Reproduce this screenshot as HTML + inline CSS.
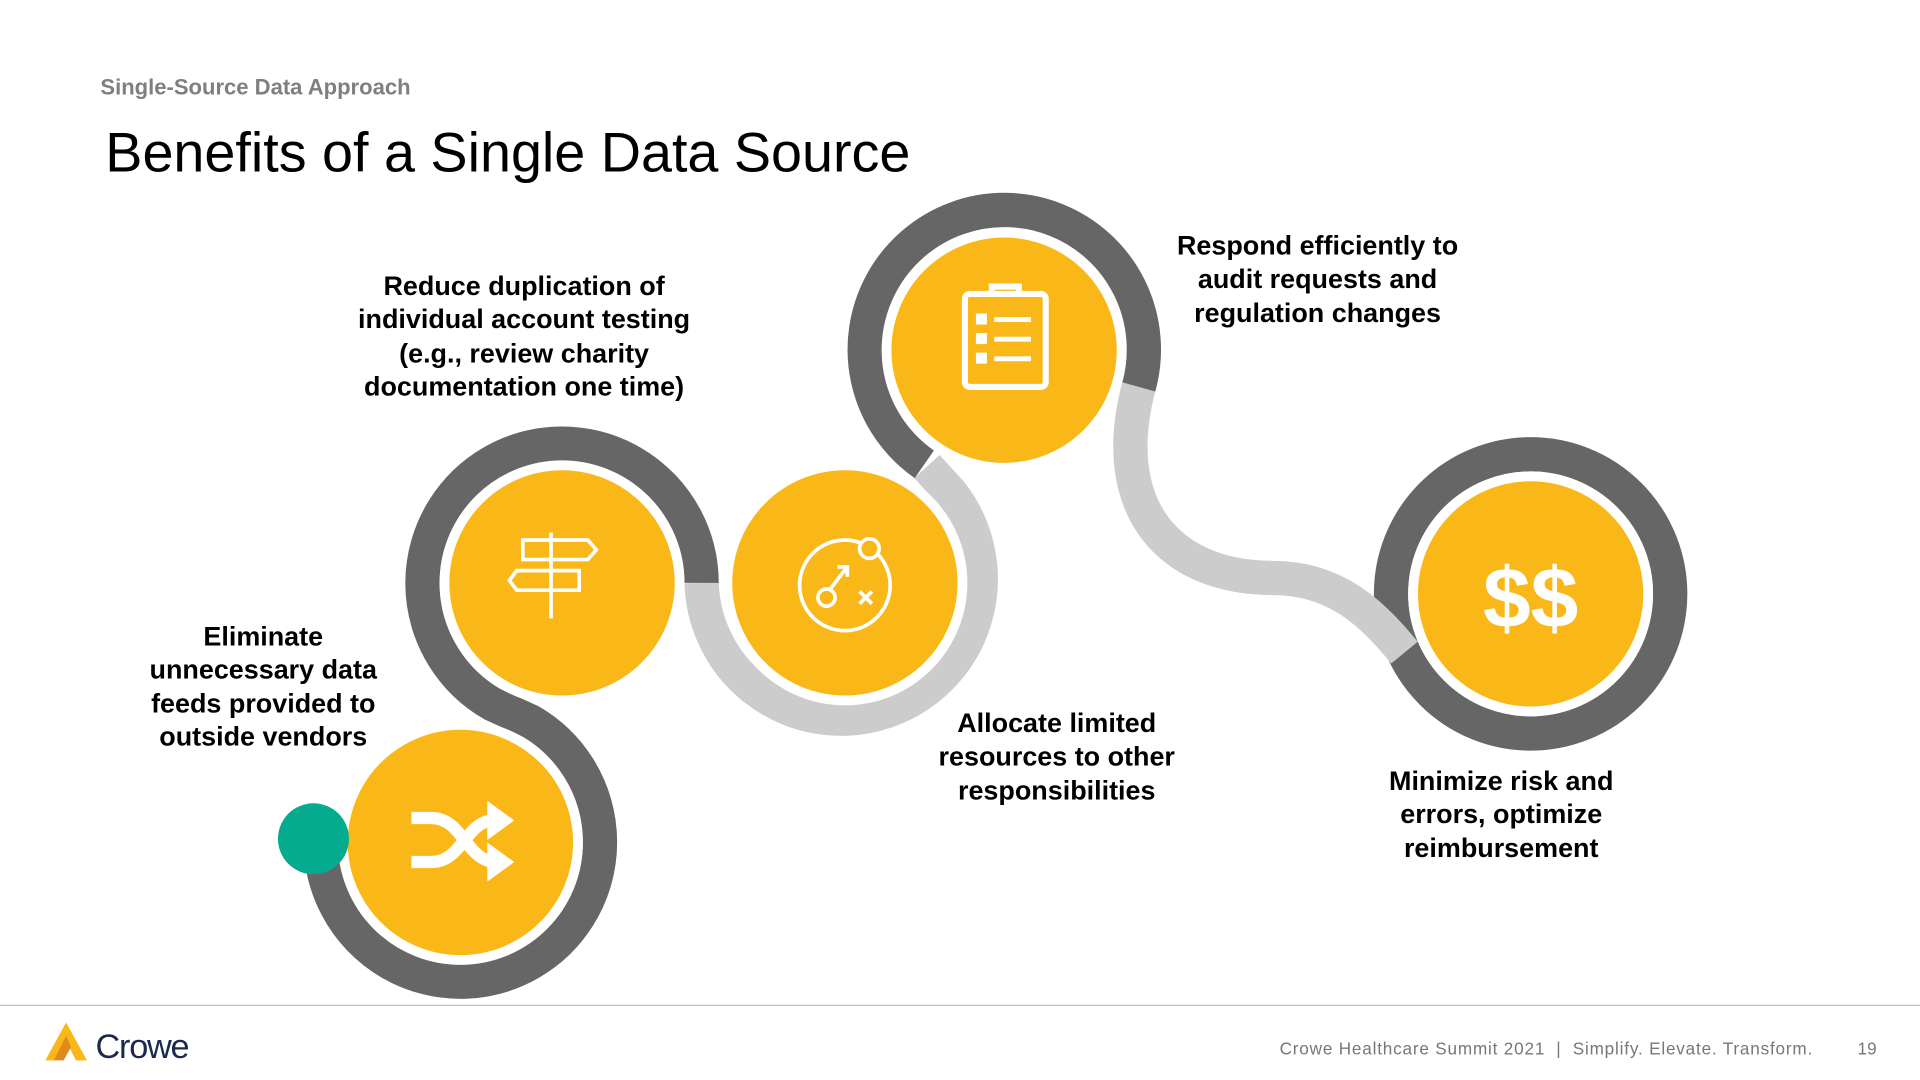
<!DOCTYPE html>
<html><head><meta charset="utf-8"><style>
html,body{margin:0;padding:0;background:#fff;width:1920px;height:1080px;overflow:hidden}
svg{display:block}
text{font-family:"Liberation Sans",Arial,sans-serif}
.l{font-size:22px;font-weight:bold;fill:#000;text-anchor:middle}
</style></head><body>
<svg width="1920" height="1080" viewBox="0 0 1568 882" xmlns="http://www.w3.org/2000/svg">
<rect width="1568" height="882" fill="#fff"/>
<text x="82" y="77" font-size="18" font-weight="bold" fill="#7f7f7f">Single-Source Data Approach</text>
<text x="86" y="140" font-size="45.5" fill="#000">Benefits of a Single Data Source</text>

<g fill="none" stroke-width="28">
<circle cx="1250" cy="485" r="114" stroke="#666"/>
<path d="M573 476 A114 114 0 1 0 777 403 L757 381" stroke="#ccc"/>
<path d="M930 316 C905 410 950 472 1040 472 C1090 472 1120 500 1147 533" stroke="#ccc"/>
<path d="M262 688 A114 114 0 1 0 433 589 L402 575 A114 114 0 1 1 573 476" stroke="#666"/>
<path d="M755 379 A114 114 0 1 1 930 316" stroke="#666"/>
</g>

<g fill="#F9B817" stroke="#fff" stroke-width="8">
<circle cx="376" cy="688" r="96"/>
<circle cx="459" cy="476" r="96"/>
<circle cx="690" cy="476" r="96"/>
<circle cx="820" cy="286" r="96"/>
<circle cx="1250" cy="485" r="96"/>
</g>
<circle cx="256" cy="685" r="29" fill="#05AB8F"/>

<g stroke="#fff" fill="none" stroke-width="3">
<line x1="450" y1="435" x2="450" y2="505"/>
<path d="M427 441 H480 L487 449 L480 457 H427 Z"/>
<path d="M473 466 H422 L416 474 L422 482 H473 Z"/>
<circle cx="690" cy="478" r="37"/>
<circle cx="710" cy="448" r="8" fill="#F9B817"/>
<circle cx="675" cy="488" r="7"/>
<path d="M678 481 L692 463 M684 463 H692 V471"/>
<path d="M702 483 L712 493 M712 483 L702 493"/>
<rect x="788" y="240" width="66" height="76" rx="4" stroke-width="5"/>
<path d="M810 240 V234 H832 V240" stroke-width="5"/>
</g>
<g fill="#fff">
<rect x="797" y="256" width="9" height="9"/><rect x="812" y="259" width="30" height="4"/>
<rect x="797" y="272" width="9" height="9"/><rect x="812" y="275" width="30" height="4"/>
<rect x="797" y="288" width="9" height="9"/><rect x="812" y="291" width="30" height="4"/>
</g>
<g fill="none" stroke="#fff" stroke-width="10">
<path d="M336 668 H352 C378 668 380 702 404 704"/>
<path d="M336 704 H352 C378 704 380 670 404 670"/>
</g>
<g fill="#fff">
<path d="M398 654 L420 670 L398 686 Z"/>
<path d="M398 688 L420 704 L398 720 Z"/>
</g>
<text x="1250" y="512" font-size="70" font-weight="bold" fill="#fff" text-anchor="middle">$$</text>

<text class="l"><tspan x="428" y="241">Reduce duplication of</tspan><tspan x="428" y="268">individual account testing</tspan><tspan x="428" y="296">(e.g., review charity</tspan><tspan x="428" y="323">documentation one time)</tspan></text>
<text class="l"><tspan x="1076" y="208">Respond efficiently to</tspan><tspan x="1076" y="235">audit requests and</tspan><tspan x="1076" y="263">regulation changes</tspan></text>
<text class="l"><tspan x="215" y="527">Eliminate</tspan><tspan x="215" y="554">unnecessary data</tspan><tspan x="215" y="582">feeds provided to</tspan><tspan x="215" y="609">outside vendors</tspan></text>
<text class="l"><tspan x="863" y="598">Allocate limited</tspan><tspan x="863" y="625">resources to other</tspan><tspan x="863" y="653">responsibilities</tspan></text>
<text class="l"><tspan x="1226" y="645">Minimize risk and</tspan><tspan x="1226" y="672">errors, optimize</tspan><tspan x="1226" y="700">reimbursement</tspan></text>

<line x1="0" y1="821" x2="1568" y2="821" stroke="#bbb" stroke-width="1"/>
<path d="M37 866 L54 835 L71 866 L62 866 L54 850 L46 866 Z" fill="#F9B817"/>
<path d="M44 866 L54 846 L58 855 L52 866 Z" fill="#E08A1E"/>
<text x="78" y="864" font-size="28" fill="#1b2a4a" letter-spacing="-1">Crowe</text>
<text x="1045" y="861" font-size="14" fill="#777" textLength="435" lengthAdjust="spacing" style="white-space:pre">Crowe Healthcare Summit 2021  |  Simplify. Elevate. Transform.</text>
<text x="1517" y="861" font-size="14" fill="#777">19</text>
</svg>
</body></html>
